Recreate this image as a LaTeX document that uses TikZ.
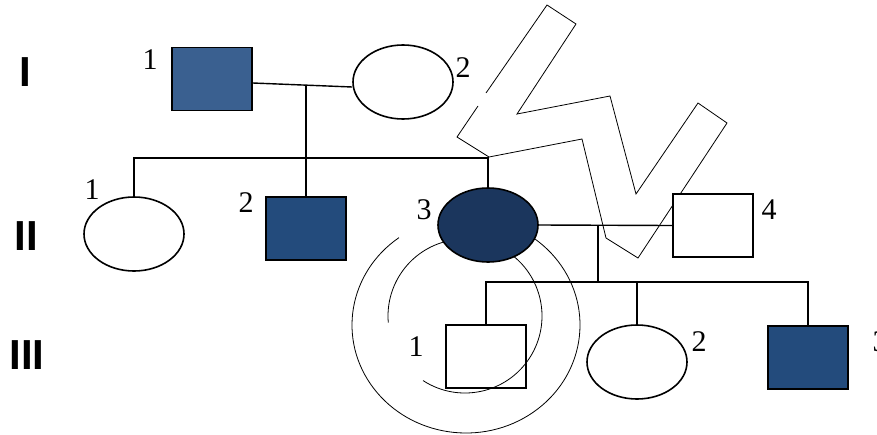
\documentclass[tikz,border=0pt]{standalone}
\usepackage{fontspec}
\setmainfont{Liberation Serif}
\newfontfamily\gensans{Liberation Sans}
\usetikzlibrary{shapes.geometric}
\definecolor{blueA}{HTML}{3A6090}
\definecolor{blueB}{HTML}{234B7C}
\definecolor{blueC}{HTML}{1B365D}
\tikzstyle{male} = [rectangle, draw, line width=1.6pt, fill=white,
    minimum width=80pt, minimum height=63pt, inner sep=0pt]
\tikzstyle{female} = [ellipse, draw, line width=1.6pt, fill=white,
    minimum width=100pt, minimum height=74pt, inner sep=0pt]

\begin{document}
\begin{tikzpicture}[
x=1pt, y=-1pt,
num/.style = {font=\fontsize{30}{36}\selectfont, inner sep=0pt},
gen/.style = {font=\gensans\bfseries\fontsize{42}{48}\selectfont, inner sep=0pt},
link/.style = {draw, line width=1.4pt},
sketch/.style = {draw, line width=0.8pt},
                        ]
\useasboundingbox (0,0) rectangle (877,434);
% zigzag
\draw[sketch] (486,93) -- (547,5) -- (576,24) -- (517,114) -- (610,96)
    -- (636,194) -- (698,103) -- (727,123) -- (638,258) -- (606,238)
    -- (582,139) -- (489,157) -- (457,137) -- (478,106);
% generation labels
\node[gen] (gI) at (25,72) {I};
\node[gen] (gII) at (26,236) {II};
\node[gen] (gIII) at (27,355) {III};
% generation I
\node[male, fill=blueA] (I1) at (212,79) {};
\node[female] (I2) at (403,82) {};
\node[num] at (150,60) {1};
\node[num] at (463,68) {2};
% generation II
\node[female] (II1) at (134,234) {};
\node[male, fill=blueB] (II2) at (306,228.5) {};
\node[male] (II4) at (713,225.5) {};
\node[num] at (92,190) {1};
\node[num] at (246,203) {2};
\node[num] at (424,210) {3};
\node[num] at (769,210) {4};
% generation III
\node[male] (III1) at (486,356.5) {};
\node[female] (III2) at (637,362) {};
\node[male, fill=blueB] (III3) at (808,357.5) {};
\node[num] at (416,347) {1};
\node[num] at (699,342) {2};
\node[num] at (880,342) {3};
% spiral (over III-1, under II-3)
\draw[sketch] (466,325) ++(234:114 and 108)
    arc[start angle=234, end angle=-80, x radius=114, y radius=108];
\draw[sketch] (465,316) ++(123:77)
    arc[start angle=123, end angle=-185, radius=77];
\node[female, fill=blueC] (II3) at (488,225) {};
% connectors
\coordinate (mateI) at (306,85);
\coordinate (sibI) at (306,158);
\coordinate (mateII) at (598,225);
\coordinate (sibII) at (598,282);
\draw[link] ([yshift=-4pt]I1.east) -- ([yshift=-5pt]I2.west);
\draw[link] (mateI) -- (II2.north);
\draw[link] (II1.north) |- (sibI) -| (II3.north);
\draw[link] (II3.east) -- (II4.west);
\draw[link] (mateII) -- (sibII);
\draw[link] (III1.north) |- (sibII) -| (III3.north);
\draw[link] (III2.north) -- (III2.north |- sibII);
\end{tikzpicture}
\end{document}
